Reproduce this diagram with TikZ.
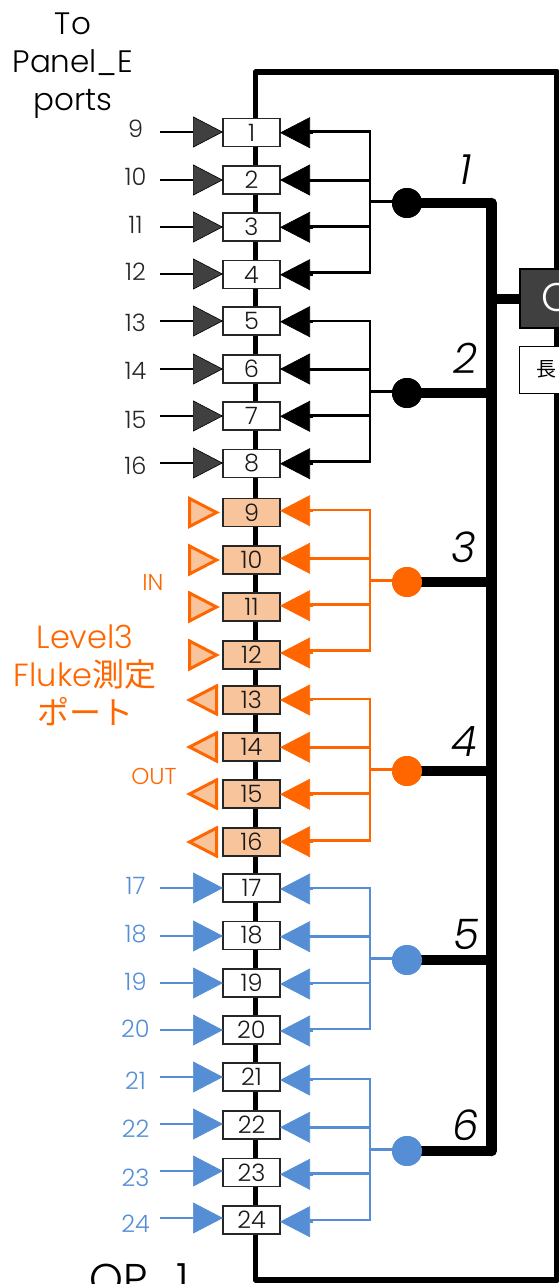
\documentclass[tikz,border=0pt]{standalone}
\usepackage{fontspec}
\usetikzlibrary{arrows.meta,calc}
\setmainfont{Poppins Light}
\newfontfamily\cjkf{Noto Sans CJK JP}
\definecolor{dk}{HTML}{404040}
\definecolor{org}{HTML}{FF6600}
\definecolor{orgl}{HTML}{F8C49C}
\definecolor{blu}{HTML}{558ED5}
\tikzset{
 x=1pt,y=-1pt,
 portbox/.style={draw=black!85,line width=1.3pt,minimum width=57pt,minimum height=28pt,inner sep=0pt,outer sep=0pt,font=\fontsize{24}{24}\selectfont,text=black!90},
 thin wire/.style={line width=2.8pt},
 bus/.style={line width=10.5pt,line join=round},
 frame/.style={line width=5.5pt,line join=round},
 tiparrow/.style={thin wire,-{Triangle[length=30pt,width=31pt,line width=.6pt,#1]}},
 numlab/.style={font=\fontsize{24}{24}\selectfont,inner sep=0pt},
 dot/.style={circle,minimum size=30pt,inner sep=0pt,outer sep=0pt},
 chan/.style={font=\fontsize{42}{42}\selectfont\itshape,inner sep=0pt},
 title/.style={font=\fontsize{31}{38}\selectfont,align=center,inner sep=0pt},
}
\begin{document}
\begin{tikzpicture}
\useasboundingbox (0,0) rectangle (559,1284);
\clip (0,0) rectangle (559,1284);
% frame
\coordinate (fa) at (255.5,1280);
\coordinate (fb) at (255.5,72);
\coordinate (fc) at (557,72);
\coordinate (fd) at (557,1280);
\draw[frame] (fa) -- (fb) -- (fc) -- (fd) -- cycle;
% boxes
\foreach \n/\y in {1/132.5,2/180,3/227,4/274.5,5/321,6/369,7/416,8/463.5,
 17/888,18/935.5,19/983,20/1030,21/1077,22/1125,23/1172.5,24/1220}
  \node[portbox,fill=white] (b\n) at (251.5,\y) {\n};
\foreach \n/\y in {9/512.5,10/560,11/607,12/655,13/700,14/747,15/794,16/842}
  \node[portbox,fill=orgl] (b\n) at (251.5,\y) {\n};
% black group left
\foreach \n/\l/\yl/\yt in {1/9/132/129,2/10/180/177,3/11/227/225,4/12/274/272,5/13/321/323,6/14/369/371,7/15/416/420,8/16/463/466}{
  \coordinate (L\n) at (160,\yl);
  \draw[tiparrow={fill=dk},black] (L\n) -- (L\n -| b\n.west);
  \node[numlab,text=black!85] (t\n) at (135.5,\yt) {\l};
}
% blue group left
\foreach \n/\yl/\yt in {17/888/886,18/936/934,19/983/982,20/1030/1029,21/1077/1081,22/1124/1129,23/1171/1178,24/1218/1224}{
  \coordinate (L\n) at (160,\yl);
  \draw[tiparrow={fill=blu},blu] (L\n) -- (L\n -| b\n.west);
  \node[numlab,text=blu] (t\n) at (135.5,\yt) {\n};
}
% orange triangles
\foreach \n in {9,10,11,12}
  \draw[org,fill=orgl,line width=3pt,line join=miter] ($(b\n.west)+(-33.5,-14)$) -- ($(b\n.west)+(-6.5,0)$) -- ($(b\n.west)+(-33.5,14)$) -- cycle;
\foreach \n in {13,14,15,16}
  \draw[org,fill=orgl,line width=3pt,line join=miter] ($(b\n.west)+(-6.5,-14)$) -- ($(b\n.west)+(-33.5,0)$) -- ($(b\n.west)+(-6.5,14)$) -- cycle;
% right arrows: number / colour / triangle y / wire y
\foreach \k/\col/\yt/\yw in {
 1/black/132.7/131.7,2/black/180/180.7,3/black/227.3/226.7,4/black/274.7/272.7,
 5/black/321.7/321,6/black/369/369.7,7/black/416.3/415.7,8/black/463.7/461.7,
 9/org/510.7/510,10/org/558.3/558.3,11/org/605.7/604.3,12/org/653/650.7,
 13/org/700/699,14/org/747.3/747.3,15/org/794.3/793.7,16/org/841.7/840.7,
 17/blu/889/888,18/blu/936.7/936.7,19/blu/984/983,20/blu/1031/1029,
 21/blu/1080/1079,22/blu/1127.3/1127.3,23/blu/1174.3/1173.7,24/blu/1221.7/1220}{
  \coordinate (T\k) at (313,\yt);
  \coordinate (W\k) at (309,\yw);
  \coordinate (V\k) at (370,\yw);
  \draw[tiparrow={fill=\col},\col] (T\k) -- (T\k -| b\k.east);
  \draw[thin wire,\col] (W\k) -- (V\k);
}
% right groups
\foreach \c/\col/\a/\e/\ydot/\ys/\yn/\xn in {1/black/1/4/203/201.7/170/466,2/black/5/8/393/391.3/358/466,3/org/9/12/582/580.3/547/464,4/org/13/16/771/769.3/742/464,5/blu/17/20/960/958.7/934/466,6/blu/21/24/1151/1149.3/1125/466}{
  \node[dot,fill=\col] (d\c) at (407,\ydot) {};
  \coordinate (s\c) at (370,\ys);
  \coordinate (h\c) at (491.5,\ydot);
  \draw[thin wire,\col] (s\c) -- (s\c -| d\c);
  \draw[thin wire,\col,line cap=rect] (V\a) -- (V\e);
  \draw[bus,black] (d\c.center) -- (h\c);
  \node[dot,fill=\col] at (d\c) {};
  \node[chan] (n\c) at (\xn,\yn) {\c};
}
% main bus
\draw[bus,black,line cap=round] (h1) -- (h6);
\node[draw=black,line width=2pt,fill=dk,minimum width=80pt,minimum height=59pt,anchor=north west,inner sep=0pt,outer sep=0pt] (op) at (520,269) {};
\node[anchor=west,text=white,font=\fontsize{40}{40}\selectfont,inner sep=0pt] (opt) at (541,297) {O};
\draw[line width=10pt,black] (h1 |- op.west) -- (op.west);
\node[draw=black,line width=1pt,fill=white,minimum width=80pt,minimum height=47pt,anchor=north west,inner sep=0pt,outer sep=0pt] (cb) at (519.5,346) {};
\node[font=\fontsize{20}{20}\selectfont\cjkf,anchor=west,inner sep=0pt] (cbt) at (536,369.5) {長};
% texts
\node[title] (ttl) at (73,66) {To\\Panel\_E\\ports};
\node[font=\fontsize{23}{23}\selectfont,text=org,inner sep=0pt] (in) at (153,582) {IN};
\node[font=\fontsize{23}{23}\selectfont,text=org,inner sep=0pt] (out) at (154,776) {OUT};
\node[font=\fontsize{32}{38}\selectfont,text=org,align=center,inner sep=0pt] (lv) at (85,675) {Level3\\Fluke{\cjkf 測定}\\{\cjkf ポート}};
\node[font=\fontsize{43}{43}\selectfont,anchor=base west,inner sep=0pt] (opl) at (89,1294) {OP\_1};
\end{tikzpicture}
\end{document}
